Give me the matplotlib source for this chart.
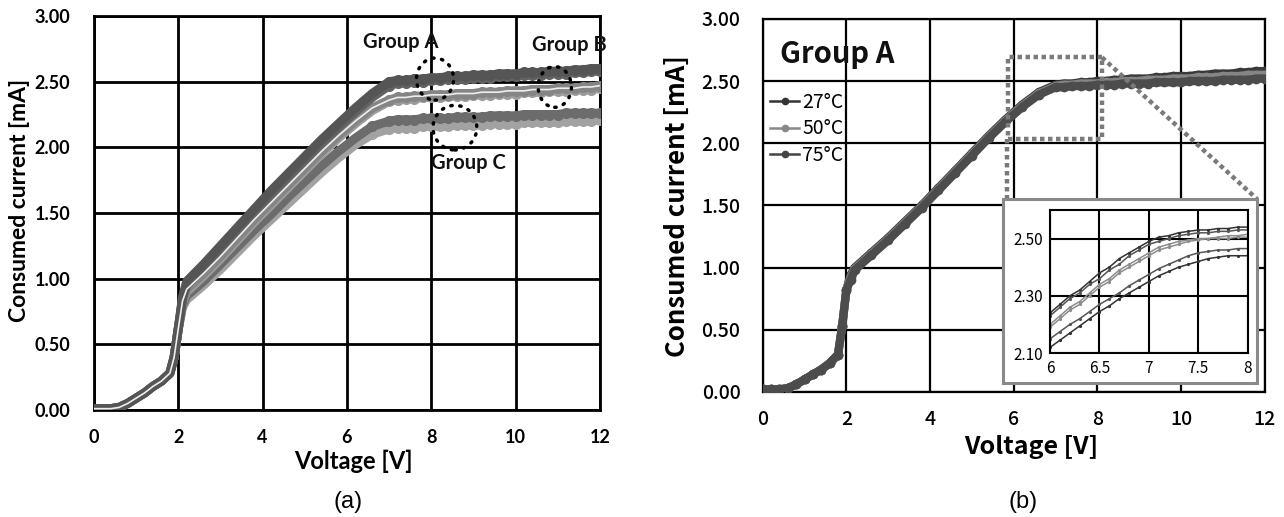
import matplotlib
matplotlib.use('Agg')
import matplotlib.pyplot as plt
from matplotlib.lines import Line2D
from matplotlib.patches import Rectangle, Ellipse
from matplotlib.ticker import FormatStrFormatter
import numpy as np

# voltage grid shared by both panels [V]
volt = [0, 0.2, 0.4, 0.6, 0.8, 1.0, 1.2, 1.4, 1.6, 1.8, 1.9, 2.0,
        2.1, 2.2, 2.6, 3.0, 3.4, 3.8, 4.2, 4.6, 5.0, 5.4, 5.8, 6.2, 6.6,
        7.0, 7.2, 7.4, 7.6, 7.8, 8.0, 8.2, 8.4, 8.6, 8.8, 9.0, 9.2, 9.4, 9.6, 9.8,
        10.0, 10.2, 10.4, 10.6, 10.8, 11.0, 11.2, 11.4, 11.6, 11.8, 12.0]

# (a) all devices share the low-voltage part up to 2.0 V
low_a = [0.01, 0.01, 0.01, 0.02, 0.05, 0.09, 0.13, 0.18, 0.22, 0.28, 0.40, 0.62]
grp_a1 = [0.86, 0.98, 1.11, 1.25, 1.39, 1.53, 1.67, 1.80, 1.93, 2.06, 2.18, 2.30, 2.41,
          2.50, 2.51, 2.51, 2.52, 2.52, 2.53, 2.53, 2.54, 2.54, 2.54, 2.55, 2.55, 2.55,
          2.56, 2.56, 2.56, 2.57, 2.57, 2.57, 2.58, 2.58, 2.58, 2.59, 2.59, 2.60, 2.60]
grp_a2 = [0.85, 0.95, 1.08, 1.22, 1.36, 1.50, 1.64, 1.77, 1.90, 2.03, 2.15, 2.27, 2.38,
          2.47, 2.49, 2.49, 2.50, 2.50, 2.51, 2.51, 2.52, 2.52, 2.52, 2.53, 2.53, 2.53,
          2.54, 2.54, 2.54, 2.55, 2.55, 2.55, 2.56, 2.56, 2.56, 2.57, 2.57, 2.58, 2.58]
grp_b1 = [0.83, 0.92, 1.04, 1.17, 1.31, 1.45, 1.58, 1.71, 1.84, 1.97, 2.09, 2.20, 2.30,
          2.36, 2.38, 2.38, 2.39, 2.39, 2.40, 2.40, 2.40, 2.41, 2.41, 2.41, 2.42, 2.42,
          2.42, 2.43, 2.43, 2.43, 2.44, 2.44, 2.44, 2.45, 2.45, 2.45, 2.46, 2.46, 2.47]
grp_b2 = [0.82, 0.90, 1.02, 1.15, 1.29, 1.43, 1.56, 1.69, 1.82, 1.95, 2.07, 2.18, 2.28,
          2.35, 2.36, 2.37, 2.37, 2.38, 2.38, 2.38, 2.39, 2.39, 2.39, 2.40, 2.40, 2.40,
          2.41, 2.41, 2.41, 2.42, 2.42, 2.42, 2.43, 2.43, 2.43, 2.44, 2.44, 2.44, 2.45]
grp_c1 = [0.80, 0.87, 0.98, 1.11, 1.24, 1.37, 1.49, 1.62, 1.74, 1.86, 1.97, 2.07, 2.16,
          2.20, 2.21, 2.21, 2.21, 2.22, 2.22, 2.22, 2.22, 2.23, 2.23, 2.23, 2.23, 2.24,
          2.24, 2.24, 2.24, 2.25, 2.25, 2.25, 2.25, 2.25, 2.26, 2.26, 2.26, 2.26, 2.26]
grp_c2 = [0.78, 0.84, 0.95, 1.07, 1.20, 1.33, 1.45, 1.57, 1.69, 1.81, 1.92, 2.02, 2.10,
          2.14, 2.15, 2.15, 2.15, 2.16, 2.16, 2.16, 2.16, 2.17, 2.17, 2.17, 2.17, 2.18,
          2.18, 2.18, 2.18, 2.19, 2.19, 2.19, 2.19, 2.19, 2.20, 2.20, 2.20, 2.20, 2.21]

# (b) Group A at three temperatures
low_b = [0.02, 0.02, 0.02, 0.03, 0.06, 0.10, 0.14, 0.18, 0.23, 0.30, 0.53, 0.82]
t27 = [0.94, 1.00, 1.12, 1.24, 1.37, 1.50, 1.64, 1.78, 1.92, 2.06, 2.19, 2.31, 2.41,
       2.47, 2.48, 2.48, 2.49, 2.49, 2.50, 2.50, 2.51, 2.51, 2.52, 2.52, 2.52, 2.53,
       2.53, 2.54, 2.54, 2.54, 2.55, 2.55, 2.56, 2.56, 2.56, 2.57, 2.57, 2.58, 2.58]
t50 = [0.92, 0.99, 1.11, 1.23, 1.36, 1.49, 1.63, 1.77, 1.91, 2.05, 2.18, 2.30, 2.40,
       2.46, 2.47, 2.47, 2.48, 2.48, 2.48, 2.49, 2.49, 2.50, 2.50, 2.50, 2.51, 2.51,
       2.51, 2.52, 2.52, 2.52, 2.53, 2.53, 2.53, 2.54, 2.54, 2.54, 2.55, 2.55, 2.55]
t75 = [0.90, 0.98, 1.10, 1.22, 1.35, 1.48, 1.62, 1.76, 1.90, 2.04, 2.17, 2.29, 2.39,
       2.45, 2.45, 2.46, 2.46, 2.46, 2.47, 2.47, 2.47, 2.48, 2.48, 2.48, 2.48, 2.49,
       2.49, 2.49, 2.49, 2.50, 2.50, 2.50, 2.50, 2.51, 2.51, 2.51, 2.51, 2.52, 2.52]
temp_labels = ['27°C', '50°C', '75°C']

# inset (6-8 V), two devices per temperature
inset_v = [6.0, 6.1, 6.2, 6.3, 6.4, 6.5, 6.6, 6.7, 6.8, 6.9, 7.0,
           7.1, 7.2, 7.3, 7.4, 7.5, 7.6, 7.7, 7.8, 7.9, 8.0]
in27a = [2.24, 2.27, 2.30, 2.32, 2.35, 2.38, 2.40, 2.43, 2.45, 2.47, 2.49,
         2.505, 2.51, 2.52, 2.525, 2.53, 2.53, 2.535, 2.535, 2.54, 2.54]
in75a = [2.23, 2.26, 2.29, 2.31, 2.34, 2.36, 2.39, 2.41, 2.44, 2.46, 2.48,
         2.49, 2.50, 2.51, 2.515, 2.52, 2.52, 2.525, 2.525, 2.53, 2.53]
in50a = [2.20, 2.23, 2.26, 2.28, 2.31, 2.34, 2.36, 2.39, 2.41, 2.43, 2.45,
         2.47, 2.48, 2.49, 2.495, 2.50, 2.50, 2.505, 2.51, 2.51, 2.515]
in50b = [2.19, 2.22, 2.25, 2.27, 2.30, 2.33, 2.35, 2.38, 2.40, 2.42, 2.44,
         2.46, 2.47, 2.48, 2.49, 2.495, 2.50, 2.50, 2.50, 2.505, 2.505]
in75b = [2.15, 2.175, 2.20, 2.22, 2.245, 2.27, 2.29, 2.31, 2.335, 2.355, 2.375,
         2.395, 2.41, 2.425, 2.44, 2.45, 2.455, 2.46, 2.46, 2.465, 2.465]
in27b = [2.12, 2.145, 2.17, 2.195, 2.22, 2.245, 2.265, 2.29, 2.31, 2.33, 2.35,
         2.37, 2.385, 2.40, 2.41, 2.42, 2.43, 2.435, 2.44, 2.44, 2.44]

x_ticks = [0, 2, 4, 6, 8, 10, 12]
y_ticks = [0, 0.5, 1.0, 1.5, 2.0, 2.5, 3.0]

FA = 'Lato'
FB = 'Noto Sans CJK JP'

v = np.array(volt)
fig = plt.figure(figsize=(12.84, 5.17), dpi=100)

# ---------------- (a) ----------------
ax = fig.add_axes([0.0732, 0.207, 0.394, 0.762])
curves_a = [(grp_c2, '#a2a2a2', 6.6), (grp_c1, '#6c6c6c', 6.6),
            (grp_b2, '#9c9c9c', 7.0), (grp_b1, '#858585', 7.0),
            (grp_a2, '#626262', 7.0), (grp_a1, '#555555', 7.0)]
for rest, col, vstart in curves_a:
    cur = np.array(low_a + rest)
    ax.plot(v, cur, color=col, lw=6.5, solid_capstyle='round', zorder=3)
    m = v >= vstart
    ax.plot(v[m], cur[m], 'o', color=col, ms=8, mec='none', zorder=3)
# thin light core line seen inside the band
ax.plot(v, np.array(low_a + grp_b1), color='#eeeeee', lw=1.2, zorder=4)

ax.set_xlim(0, 12)
ax.set_ylim(0, 3)
ax.set_xticks(x_ticks)
ax.set_yticks(y_ticks)
ax.yaxis.set_major_formatter(FormatStrFormatter('%.2f'))
ax.grid(True, color='black', lw=2)
ax.set_axisbelow(True)
for s in ax.spines.values():
    s.set_linewidth(2)
ax.tick_params(length=0, labelsize=13)
ax.tick_params(axis='y', pad=17)
ax.tick_params(axis='x', pad=14)
for lb in ax.get_xticklabels() + ax.get_yticklabels():
    lb.set_fontfamily(FA)
    lb.set_fontweight('bold')
ax.set_xlabel('Voltage [V]', fontfamily=FA, fontweight='bold', fontsize=17)
ax.set_ylabel('Consumed current [mA]', fontfamily=FA, fontweight='bold', fontsize=16.5)
ax.xaxis.set_label_coords(0.512, -0.10)
ax.yaxis.set_label_coords(-0.126, 0.533)

# dotted circles and group names
circles = [(8.09, 2.52, 0.88, 0.32), (10.93, 2.46, 0.79, 0.31), (8.56, 2.15, 1.04, 0.34)]
for cx, cy, w, h in circles:
    ax.add_patch(Ellipse((cx, cy), w, h, fill=False, ec='black', lw=2.5,
                         ls=(0, (0.4, 2.2)), capstyle='round', zorder=6))
group_txt = [('Group A', 6.38, 2.80), ('Group B', 10.39, 2.78), ('Group C', 7.99, 1.88)]
for t, tx, ty in group_txt:
    ax.text(tx, ty, t, fontfamily=FA, fontweight='bold', fontsize=14.5,
            va='center', ha='left', color='#111111', zorder=7, clip_on=False)

# ---------------- (b) ----------------
bx = fig.add_axes([0.594, 0.242, 0.391, 0.7215])
cols_b = ['#3a3a3a', '#858585', '#4c4c4c']
for rest, col in zip([t27, t50, t75], cols_b):
    cur = np.array(low_b + rest)
    bx.plot(v, cur, color=col, lw=6, marker='o', ms=7, mec='none', zorder=3)

bx.set_xlim(0, 12)
bx.set_ylim(0, 3)
bx.set_xticks(x_ticks)
bx.set_yticks(y_ticks)
bx.yaxis.set_major_formatter(FormatStrFormatter('%.2f'))
bx.grid(True, color='black', lw=1.6)
bx.set_axisbelow(True)
for s in bx.spines.values():
    s.set_linewidth(1.6)
bx.tick_params(length=0, labelsize=14)
bx.tick_params(axis='y', pad=16)
bx.tick_params(axis='x', pad=13)
for lb in bx.get_xticklabels() + bx.get_yticklabels():
    lb.set_fontfamily(FB)
    lb.set_fontweight('medium')
bx.set_xlabel('Voltage [V]', fontfamily=FB, fontweight='bold', fontsize=18)
bx.set_ylabel('Consumed current [mA]', fontfamily=FB, fontweight='bold', fontsize=18.5)
bx.xaxis.set_label_coords(0.534, -0.115)
bx.yaxis.set_label_coords(-0.143, 0.497)

bx.text(0.41, 2.72, 'Group A', fontfamily=FB, fontweight='bold', fontsize=21,
        va='center', ha='left', color='#111111')

handles = [Line2D([], [], color=c, lw=1.8, marker='o', ms=4.5) for c in ['#333333', '#888888', '#444444']]
leg = bx.legend(handles, temp_labels, loc='upper left', bbox_to_anchor=(0.015, 0.805),
                frameon=False, handlelength=1.5, handletextpad=0.15, labelspacing=0.3,
                borderpad=0, borderaxespad=0, prop={'family': FB, 'size': 14})

# zoom marker: dotted rectangle and connectors
dot = dict(color='#7a7a7a', lw=3.2, ls=(0, (1, 0.8)))
bx.add_patch(Rectangle((5.87, 2.03), 8.11 - 5.87, 2.69 - 2.03, fill=False,
                       ec='#7a7a7a', lw=3.2, ls=(0, (1, 0.8)), zorder=5))
bx.plot([8.11, 11.82], [2.69, 1.55], zorder=5, **dot)
bx.plot([5.85, 5.85], [2.03, 1.55], zorder=5, **dot)

# inset frame and inset axes
frame = fig.add_axes([0.781, 0.259, 0.198, 0.356])
frame.set_xticks([])
frame.set_yticks([])
frame.set_facecolor('white')
for s in frame.spines.values():
    s.set_color('#8a8a8a')
    s.set_linewidth(2.2)

ix = fig.add_axes([0.8178, 0.317, 0.154, 0.277])
inset_curves = [(in27a, '#333333'), (in75a, '#555555'), (in50a, '#8c8c8c'),
                (in50b, '#8c8c8c'), (in75b, '#555555'), (in27b, '#333333')]
for cur, col in inset_curves:
    ix.plot(inset_v, cur, color=col, lw=1.1, marker='o', ms=2.3, mec='none')
ix.set_xlim(6, 8)
ix.set_ylim(2.10, 2.60)
ix.set_xticks([6, 6.5, 7, 7.5, 8])
ix.set_xticklabels(['6', '6.5', '7', '7.5', '8'])
ix.set_yticks([2.10, 2.30, 2.50])
ix.yaxis.set_major_formatter(FormatStrFormatter('%.2f'))
ix.grid(True, color='black', lw=1.5)
ix.set_axisbelow(True)
for s in ix.spines.values():
    s.set_linewidth(1.5)
ix.tick_params(length=0, labelsize=11, pad=5)
for lb in ix.get_xticklabels() + ix.get_yticklabels():
    lb.set_fontfamily(FB)

fig.text(348 / 1284, 1 - 502 / 517, '(a)', fontfamily='Liberation Sans', fontsize=17,
         ha='center', va='center')
fig.text(1023 / 1284, 1 - 502 / 517, '(b)', fontfamily='Liberation Sans', fontsize=17,
         ha='center', va='center')

fig.savefig('out.png', dpi=100, facecolor='white')
